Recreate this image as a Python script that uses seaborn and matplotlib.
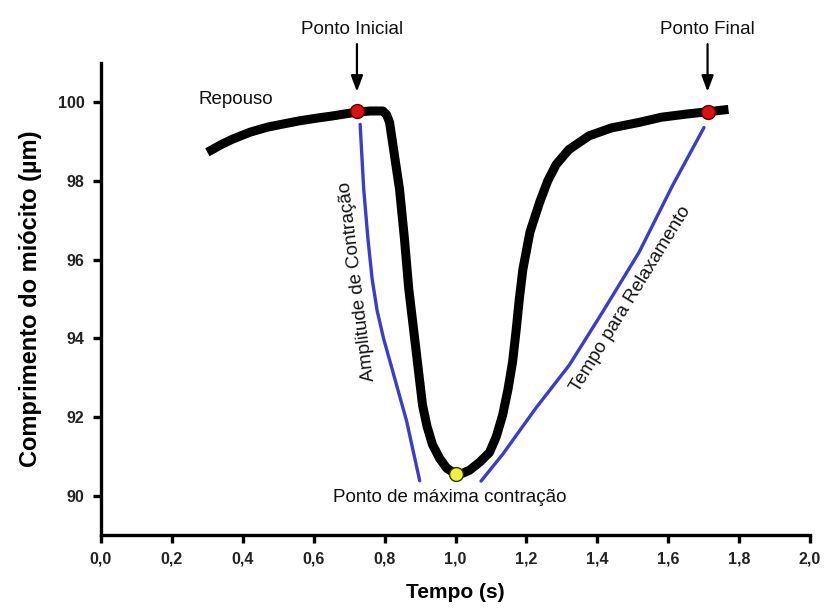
import matplotlib
matplotlib.use("Agg")
import matplotlib.pyplot as plt
import seaborn as sns
import pandas as pd

# ---- data ----
tempo = [0.30, 0.34, 0.37, 0.42, 0.47, 0.52, 0.56, 0.61, 0.65, 0.72, 0.76, 0.795,
         0.806, 0.814, 0.828, 0.842, 0.856, 0.868, 0.89, 0.907, 0.92, 0.935, 0.955,
         0.975, 1.00, 1.02, 1.04, 1.068, 1.096, 1.115, 1.133, 1.148, 1.161, 1.171,
         1.18, 1.19, 1.21, 1.237, 1.26, 1.284, 1.32, 1.377, 1.44, 1.518, 1.58, 1.65,
         1.711, 1.77]
comprimento = [98.73, 98.93, 99.06, 99.24, 99.37, 99.46, 99.53, 99.60, 99.65, 99.75,
               99.78, 99.78, 99.68, 99.49, 98.64, 97.8, 96.53, 95.27, 93.6, 92.3,
               91.75, 91.3, 90.95, 90.7, 90.55, 90.57, 90.65, 90.85, 91.1, 91.5,
               92.05, 92.7, 93.4, 94.2, 95.0, 95.75, 96.7, 97.45, 98.0, 98.42, 98.8,
               99.15, 99.35, 99.49, 99.62, 99.7, 99.76, 99.82]

amp_x = [0.731, 0.741, 0.753, 0.765, 0.779, 0.797, 0.823, 0.862, 0.899]
amp_y = [99.44, 97.8, 96.53, 95.5, 94.7, 94.0, 93.16, 91.9, 90.38]

rel_x = [1.072, 1.133, 1.227, 1.321, 1.415, 1.518, 1.612, 1.701]
rel_y = [90.37, 91.05, 92.23, 93.32, 94.67, 96.19, 97.88, 99.36]

pontos_x = [0.722, 1.711]
pontos_y = [99.78, 99.76]
min_x = [1.0]
min_y = [90.55]

xticks = [0.0, 0.2, 0.4, 0.6, 0.8, 1.0, 1.2, 1.4, 1.6, 1.8, 2.0]
xtick_labels = ["0,0", "0,2", "0,4", "0,6", "0,8", "1,0", "1,2", "1,4", "1,6", "1,8", "2,0"]
yticks = [90, 92, 94, 96, 98, 100]

sns.set_theme(style="ticks")
plt.rcParams['font.family'] = ['Liberation Sans', 'DejaVu Sans']

fig = plt.figure(figsize=(8.24, 6.08), dpi=100)
ax = fig.add_axes([101/824, 1 - 535/608, (810 - 101)/824, (535 - 63)/608])

df = pd.DataFrame({"t": tempo, "c": comprimento})
sns.lineplot(data=df, x="t", y="c", sort=False, ax=ax, color="black", lw=6.5,
             solid_capstyle="butt", solid_joinstyle="round", zorder=3)
sns.lineplot(x=amp_x, y=amp_y, sort=False, ax=ax, color="#3b3bcc", lw=2.4, zorder=2)
sns.lineplot(x=rel_x, y=rel_y, sort=False, ax=ax, color="#3b3bcc", lw=2.4, zorder=2)
sns.scatterplot(x=pontos_x, y=pontos_y, ax=ax, color="#e01010", edgecolor="#5a0000",
                s=100, linewidth=1.0, zorder=5)
sns.scatterplot(x=min_x, y=min_y, ax=ax, color="#f0f040", edgecolor="#303000",
                s=100, linewidth=1.0, zorder=5)

ax.set_xlim(0, 2.0)
ax.set_ylim(89, 101)
ax.set_xticks(xticks)
ax.set_xticklabels(xtick_labels)
ax.set_yticks(yticks)
for s in ["top", "right"]:
    ax.spines[s].set_visible(False)
for s in ["left", "bottom"]:
    ax.spines[s].set_linewidth(2.4)
    ax.spines[s].set_color("black")
ax.tick_params(axis="both", direction="out", length=6, width=2.4, color="black",
               labelsize=11.5, labelcolor="#222222", pad=6)
for lab in ax.get_xticklabels() + ax.get_yticklabels():
    lab.set_fontweight("bold")

ax.set_xlabel("Tempo (s)", fontsize=15, fontweight="bold", color="black", labelpad=12)
ax.set_ylabel("Comprimento do miócito (µm)", fontsize=17, fontweight="bold",
              color="black", labelpad=11)

txt_kw = dict(fontsize=13.5, color="#111111")
ax.text(0.38, 100.08, "Repouso", ha="center", va="center", **txt_kw)
ax.text(0.985, 89.95, "Ponto de máxima contração", ha="center", va="center", **txt_kw)
ax.text(0.722, 95.45, "Amplitude de Contração", ha="center", va="center",
        rotation=97, rotation_mode="anchor", **txt_kw)
ax.text(1.495, 95.0, "Tempo para Relaxamento", ha="center", va="center",
        rotation=58.5, rotation_mode="anchor", **txt_kw)

arrow_kw = dict(arrowstyle="-|>,head_length=0.8,head_width=0.3", color="black", lw=1.6)
ax.annotate("", xy=(0.722, 100.2), xytext=(0.722, 101.55), arrowprops=arrow_kw,
            annotation_clip=False)
ax.annotate("", xy=(1.711, 100.2), xytext=(1.711, 101.55), arrowprops=arrow_kw,
            annotation_clip=False)
ax.text(0.707, 101.85, "Ponto Inicial", ha="center", va="center", clip_on=False, **txt_kw)
ax.text(1.711, 101.85, "Ponto Final", ha="center", va="center", clip_on=False, **txt_kw)

fig.savefig("out.png", dpi=100, facecolor="white")
